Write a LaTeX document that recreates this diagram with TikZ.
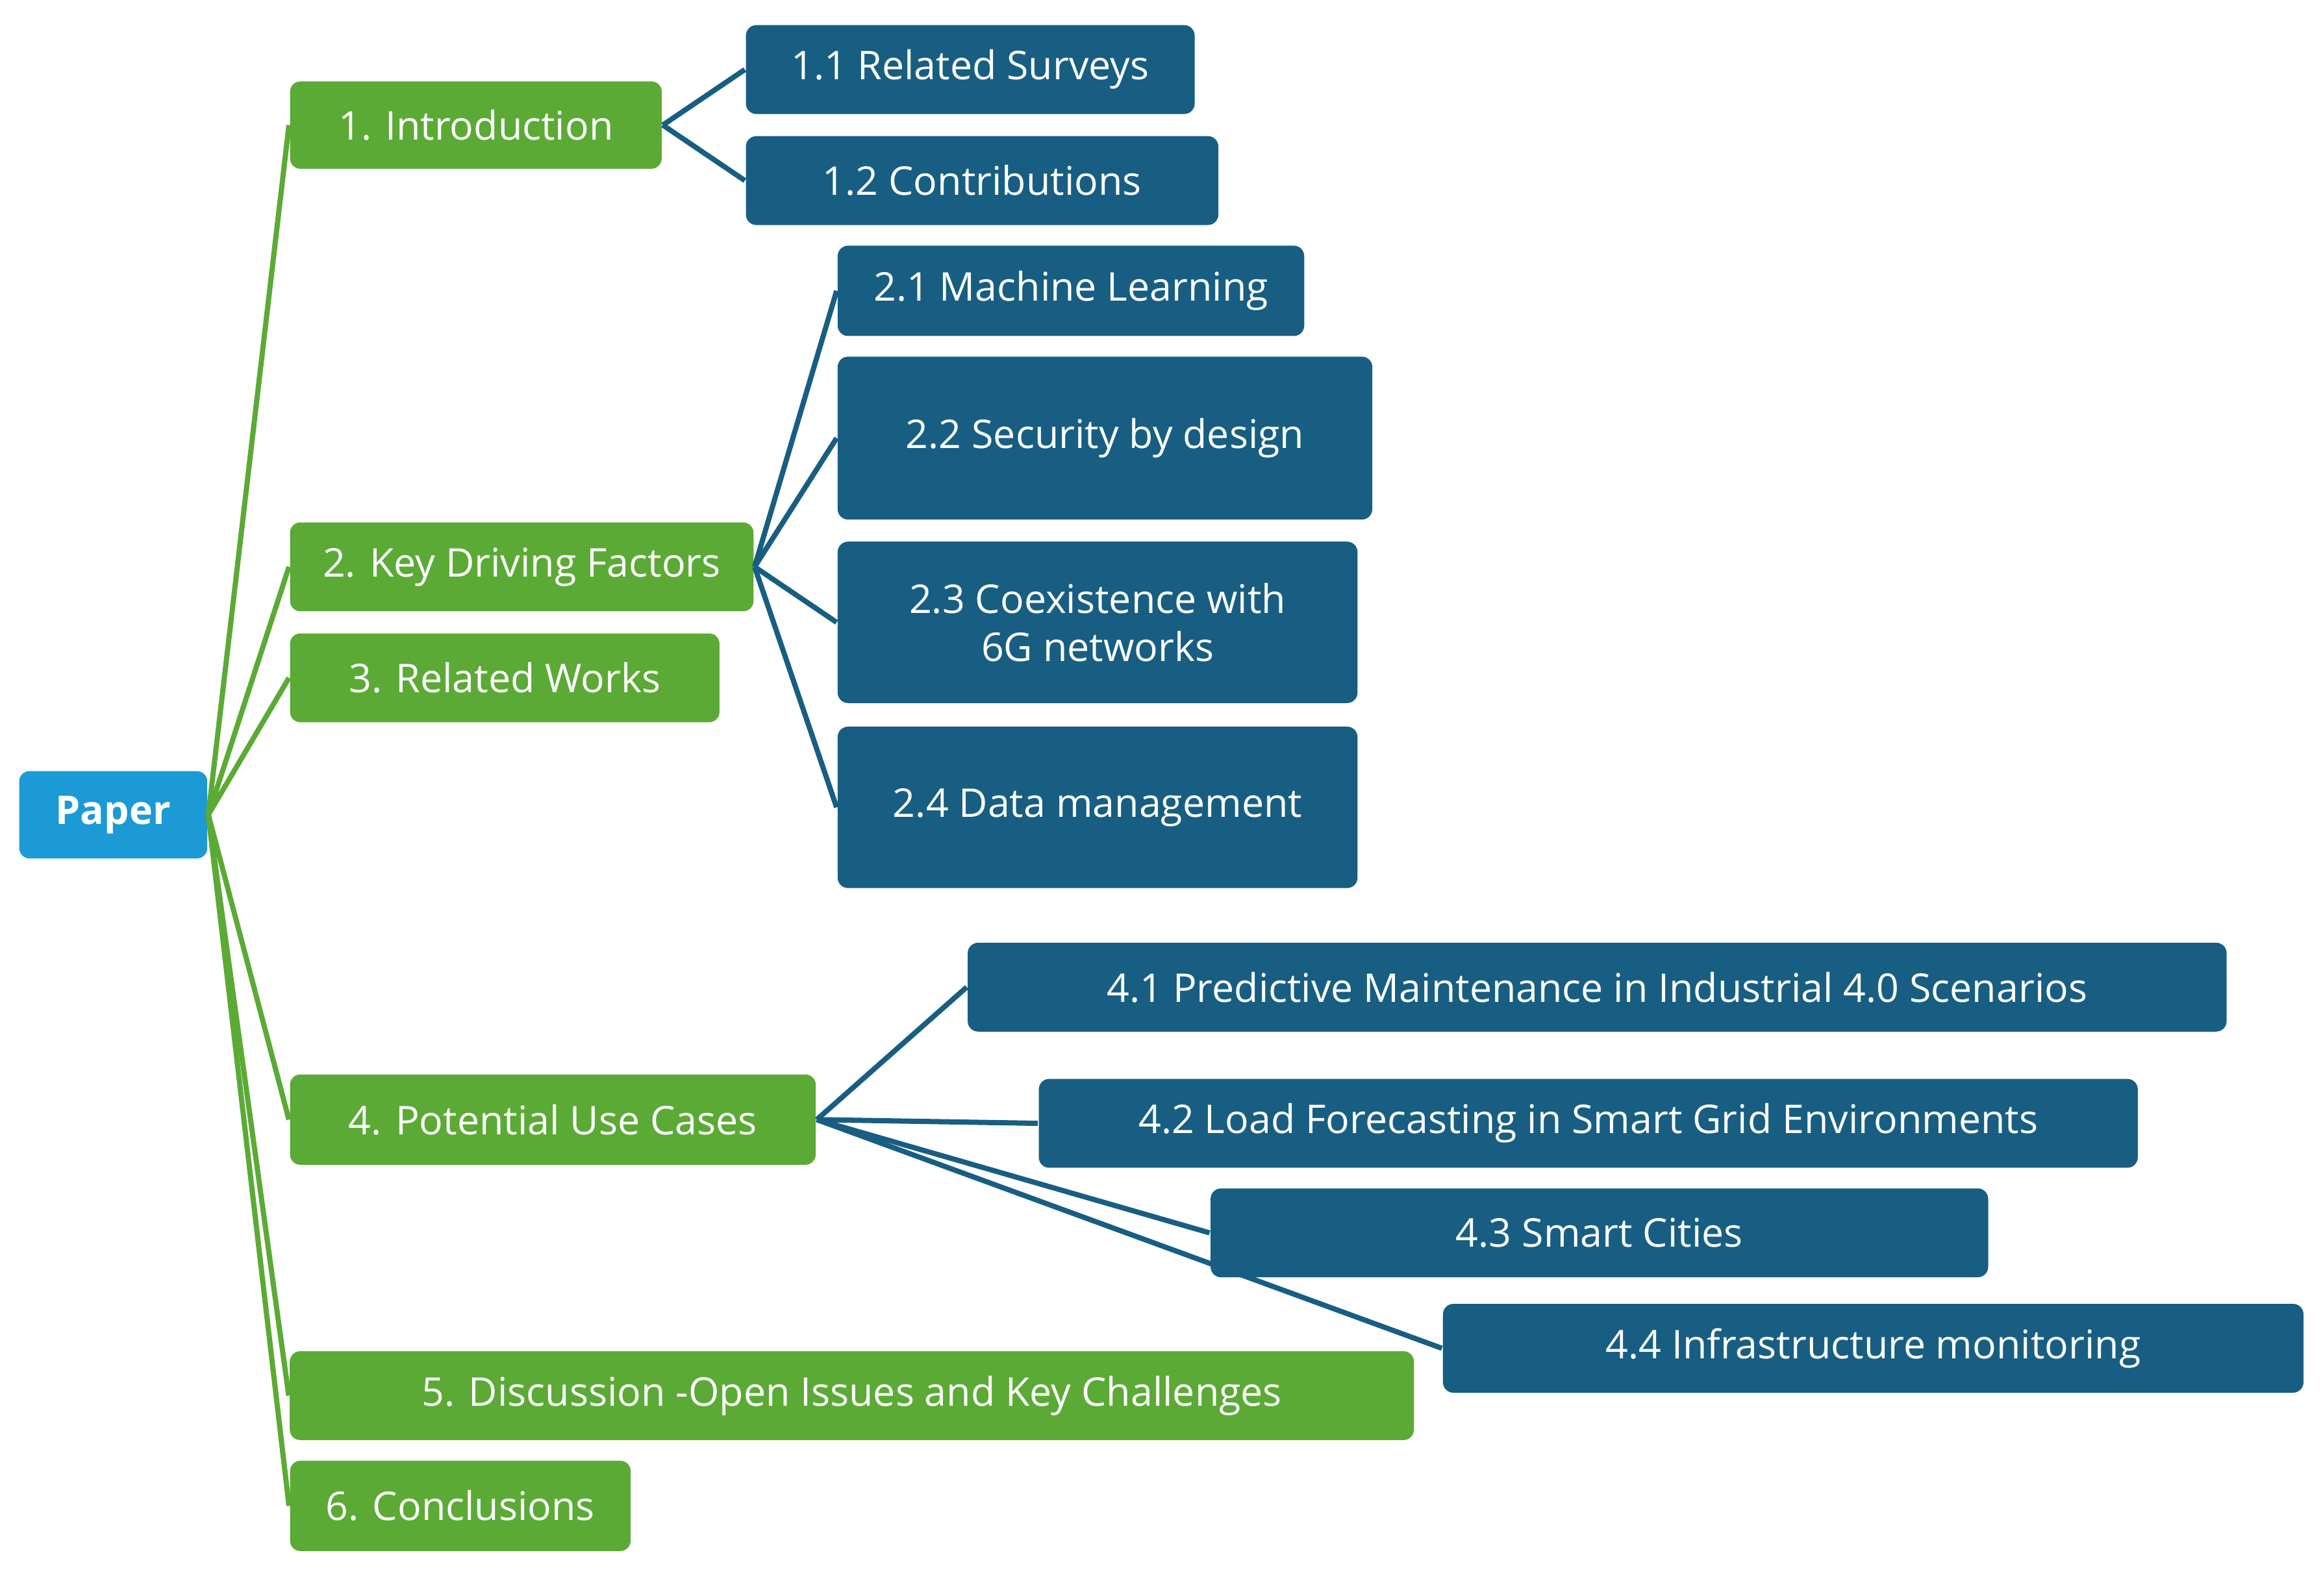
\documentclass[tikz,border=0pt]{standalone}
\usepackage{fontspec}
\setmainfont{Open Sans}
\definecolor{paperblue}{HTML}{1C9AD6}
\definecolor{secgreen}{HTML}{5BAA35}
\definecolor{subblue}{HTML}{175E82}
\tikzset{
  box/.style={rounded corners=2pt, inner sep=0pt, text=white, align=center,
    font=\fontsize{7.6}{9.2}\selectfont},
  rootbox/.style={box, fill=paperblue, font=\fontsize{7.6}{9.2}\selectfont\bfseries},
  greenbox/.style={box, fill=secgreen},
  bluebox/.style={box, fill=subblue},
  greenline/.style={draw=secgreen, line width=1pt},
  blueline/.style={draw=subblue, line width=1pt},
}
\begin{document}
\begin{tikzpicture}[x=0.01cm, y=-0.01cm]
  \useasboundingbox (0,0) rectangle (1568,1078);

  % Root and sections
  \node[rootbox, minimum width=1.27cm, minimum height=0.59cm] (paper) at (76.5,550.5) {Paper};
  \node[greenbox, minimum width=2.51cm, minimum height=0.59cm] (intro) at (321.5,84.5) {1. Introduction};
  \node[greenbox, minimum width=3.13cm, minimum height=0.60cm] (key) at (352.5,383) {2. Key Driving Factors};
  \node[greenbox, minimum width=2.90cm, minimum height=0.60cm] (rel) at (341,458) {3. Related Works};
  \node[greenbox, minimum width=3.55cm, minimum height=0.61cm] (use) at (373.5,756.5) {4. Potential Use Cases};
  \node[greenbox, minimum width=7.59cm, minimum height=0.60cm] (disc) at (575.5,943) {5. Discussion -Open Issues and Key Challenges};
  \node[greenbox, minimum width=2.30cm, minimum height=0.61cm] (concl) at (311,1017.5) {6. Conclusions};

  % Subsections
  \node[bluebox, minimum width=3.03cm, minimum height=0.60cm] (surv) at (655.5,47) {1.1 Related Surveys};
  \node[bluebox, minimum width=3.19cm, minimum height=0.60cm] (contr) at (663.5,122) {1.2 Contributions};
  \node[bluebox, minimum width=3.15cm, minimum height=0.61cm] (ml) at (723.5,196.5) {2.1 Machine Learning};
  \node[bluebox, minimum width=3.61cm, minimum height=1.10cm] (sec) at (746.5,296) {2.2 Security by design};
  \node[bluebox, minimum width=3.51cm, minimum height=1.09cm] (coex) at (741.5,420.5) {2.3 Coexistence with\\6G networks};
  \node[bluebox, minimum width=3.51cm, minimum height=1.09cm] (data) at (741.5,545.5) {2.4 Data management};
  \node[bluebox, minimum width=8.50cm, minimum height=0.60cm] (pred) at (1079,667) {4.1 Predictive Maintenance in Industrial 4.0 Scenarios};
  \node[bluebox, minimum width=7.42cm, minimum height=0.60cm] (load) at (1073,759) {4.2 Load Forecasting in Smart Grid Environments};
  \node[bluebox, minimum width=5.25cm, minimum height=0.60cm] (city) at (1080.5,833) {4.3 Smart Cities};
  \node[bluebox, minimum width=5.81cm, minimum height=0.60cm] (infra) at (1265.5,911) {4.4 Infrastructure monitoring};

  % Connectors
  \foreach \s in {intro,key,rel,use,disc,concl}
    \draw[greenline] (paper.east) -- (\s.west);
  \foreach \s in {surv,contr}
    \draw[blueline] (intro.east) -- (\s.west);
  \foreach \s in {ml,sec,coex,data}
    \draw[blueline] (key.east) -- (\s.west);
  \foreach \s in {pred,load,city,infra}
    \draw[blueline] (use.east) -- (\s.west);
\end{tikzpicture}
\end{document}
